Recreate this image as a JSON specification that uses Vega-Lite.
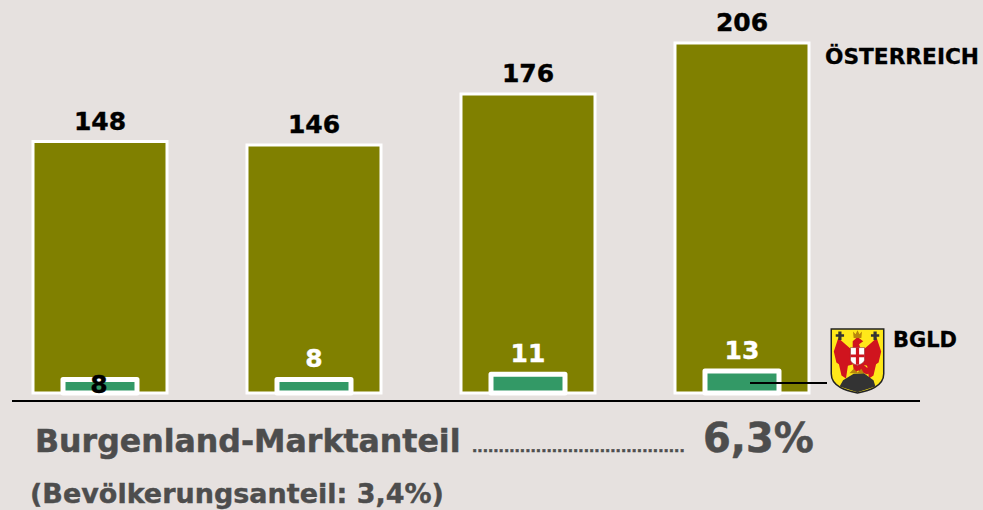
{
"$schema":"https://vega.github.io/schema/vega-lite/v6.json",
"width":983,"height":510,
"autosize":{"type":"fit","contains":"padding"},
"padding":0,
"background":"#E6E1DF",
"view":{"stroke":null},
"config":{"text":{"font":"DejaVu Sans","fontWeight":"bold"},"axis":{"disable":true}},
"datasets":{
"bars":[{"pos":1,"oesterreich":148,"bgld":8},{"pos":2,"oesterreich":146,"bgld":8},{"pos":3,"oesterreich":176,"bgld":11},{"pos":4,"oesterreich":206,"bgld":13}],
"one":[{"k":1}]
},
"data":{"name":"bars"},
"layer":[
{"mark":{"type":"bar","orient":"vertical","size":134,"fill":"#808000","stroke":"#FFFFFF","strokeWidth":3},
 "encoding":{
  "x":{"field":"pos","type":"quantitative","scale":{"domain":[0.53271,5.12617],"nice":false,"zero":false,"padding":0}},
  "y":{"field":"oesterreich","type":"quantitative","scale":{"domain":[-68.86,231.31],"nice":false,"zero":false}},
  "y2":{"datum":0}}},
{"mark":{"type":"bar","orient":"vertical","size":74,"fill":"#339966","stroke":"#FFFFFF","strokeWidth":5,"strokeJoin":"round"},
 "encoding":{"x":{"field":"pos","type":"quantitative"},"y":{"field":"bgld","type":"quantitative"},"y2":{"datum":0}}},
{"mark":{"type":"text","fontSize":25,"baseline":"alphabetic","dy":-12,"color":"#000000","stroke":"#000000","strokeWidth":0.4},
 "encoding":{"x":{"field":"pos","type":"quantitative"},"y":{"field":"oesterreich","type":"quantitative"},"text":{"field":"oesterreich","type":"quantitative"}}},
{"transform":[{"filter":"datum.pos > 1"}],
 "mark":{"type":"text","fontSize":25,"baseline":"alphabetic","dy":-12,"color":"#FFFFFF","stroke":"#FFFFFF","strokeWidth":0.4},
 "encoding":{"x":{"field":"pos","type":"quantitative"},"y":{"field":"bgld","type":"quantitative"},"text":{"field":"bgld","type":"quantitative"}}},
{"transform":[{"filter":"datum.pos == 1"}],
 "mark":{"type":"text","fontSize":25,"baseline":"alphabetic","dy":14,"dx":-1,"color":"#000000","stroke":"#000000","strokeWidth":0.4},
 "encoding":{"x":{"field":"pos","type":"quantitative"},"y":{"field":"bgld","type":"quantitative"},"text":{"field":"bgld","type":"quantitative"}}},
{"data":{"name":"one"},"mark":{"type":"rule","color":"#000000","strokeWidth":2},
 "encoding":{"x":{"datum":0.5888,"type":"quantitative"},"x2":{"datum":4.8318},"y":{"datum":-4.71,"type":"quantitative"}}},
{"data":{"name":"one"},"mark":{"type":"rule","color":"#000000","strokeWidth":2},
 "encoding":{"x":{"datum":4.0374,"type":"quantitative"},"x2":{"datum":4.3972},"y":{"datum":5.886,"type":"quantitative"}}},
{"data":{"values":[{"label":"ÖSTERREICH"}]},"mark":{"type":"text","align":"left","baseline":"alphabetic","fontSize":21.7,"color":"#000000","stroke":"#000000","strokeWidth":0.3},
 "encoding":{"x":{"datum":4.3879,"type":"quantitative"},"y":{"datum":193.6,"type":"quantitative"},"text":{"field":"label"}}},
{"data":{"values":[{"label":"BGLD"}]},"mark":{"type":"text","align":"left","baseline":"alphabetic","fontSize":21,"color":"#000000","stroke":"#000000","strokeWidth":0.3},
 "encoding":{"x":{"datum":4.7056,"type":"quantitative"},"y":{"datum":27.07,"type":"quantitative"},"text":{"field":"label"}}},
{"data":{"values":[{"label":"Burgenland-Marktanteil"}]},"mark":{"type":"text","align":"left","baseline":"alphabetic","fontSize":31.6,"color":"#4D4D4D","stroke":"#4D4D4D","strokeWidth":0.5},
 "encoding":{"x":{"datum":0.6963,"type":"quantitative"},"y":{"datum":-34.73,"type":"quantitative"},"text":{"field":"label"}}},
{"data":{"values":[{"label":"........................................"}]},"mark":{"type":"text","align":"left","baseline":"alphabetic","fontSize":14,"color":"#4D4D4D","stroke":"#4D4D4D","strokeWidth":0.5},
 "encoding":{"x":{"datum":2.7383,"type":"quantitative"},"y":{"datum":-34.73,"type":"quantitative"},"text":{"field":"label"}}},
{"data":{"values":[{"label":"6,3%"}]},"mark":{"type":"text","align":"left","baseline":"alphabetic","fontSize":40,"color":"#4D4D4D","stroke":"#4D4D4D","strokeWidth":0.5},
 "encoding":{"x":{"datum":3.8177,"type":"quantitative"},"y":{"datum":-34.73,"type":"quantitative"},"text":{"field":"label"}}},
{"data":{"values":[{"label":"(Bevölkerungsanteil: 3,4%)"}]},"mark":{"type":"text","align":"left","baseline":"alphabetic","fontSize":27,"color":"#4D4D4D","stroke":"#4D4D4D","strokeWidth":0.4},
 "encoding":{"x":{"datum":0.6729,"type":"quantitative"},"y":{"datum":-64.74,"type":"quantitative"},"text":{"field":"label"}}},
{"data":{"name":"one"},"mark":{"type":"point","filled":true,"opacity":1,"size":4096,"fill":"#FFE81A","stroke":"#222222","strokeWidth":1.5,
  "shape":"M-.82,-1H.82V.4C.82,.8 .35,.93 0,1C-.35,.93 -.82,.8 -.82,.4Z"},
 "encoding":{"x":{"datum":4.5397,"type":"quantitative"},"y":{"datum":18.83,"type":"quantitative"}}},
{"data":{"name":"one"},"mark":{"type":"point","filled":true,"opacity":1,"size":4096,"fill":"#D0141E","stroke":null,
  "shape":"M-.6,-.72L-.74,-.3L-.66,.05L-.58,.1L-.5,.45L-.36,.55L-.3,.15L-.12,.1L-.12,-.3ZM.6,-.72L.74,-.3L.66,.05L.58,.1L.5,.45L.36,.55L.3,.15L.12,.1L.12,-.3ZM-.15,-.35L-.15,-.62L0,-.75L.18,-.62L.05,-.52L.12,-.3ZM-.15,.08L.15,.08L.42,.32L.3,.42L.02,.3L-.1,.38Z"},
 "encoding":{"x":{"datum":4.5397,"type":"quantitative"},"y":{"datum":18.83,"type":"quantitative"}}},
{"data":{"name":"one"},"mark":{"type":"point","filled":true,"opacity":1,"size":4096,"fill":"#FFFFFF","stroke":"#7A1010","strokeWidth":0.5,
  "shape":"M-.22,-.42H.22V-.05C.22,.05 .1,.1 0,.14C-.1,.1 -.22,.05 -.22,-.05Z"},
 "encoding":{"x":{"datum":4.5397,"type":"quantitative"},"y":{"datum":18.83,"type":"quantitative"}}},
{"data":{"name":"one"},"mark":{"type":"point","filled":true,"opacity":1,"size":4096,"fill":"#D0141E","stroke":null,
  "shape":"M-.05,-.42H.05V.12H-.05ZM-.22,-.2H.22V-.12H-.22Z"},
 "encoding":{"x":{"datum":4.5397,"type":"quantitative"},"y":{"datum":18.83,"type":"quantitative"}}},
{"data":{"name":"one"},"mark":{"type":"point","filled":true,"opacity":1,"size":4096,"fill":"#333333","stroke":null,
  "shape":"M-.12,.4L.2,.38L.5,.6L.56,.8L0,.98L-.56,.8L-.45,.6ZM-.6,-.92H-.5V-.84H-.42V-.76H-.5V-.66H-.6V-.76H-.68V-.84H-.6ZM.5,-.92H.6V-.84H.68V-.76H.6V-.66H.5V-.76H.42V-.84H.5Z"},
 "encoding":{"x":{"datum":4.5397,"type":"quantitative"},"y":{"datum":18.83,"type":"quantitative"}}},
{"data":{"name":"one"},"mark":{"type":"point","filled":true,"opacity":1,"size":4096,"fill":"#B8860B","stroke":null,
  "shape":"M-.14,-.92L-.06,-.84L0,-.96L.06,-.84L.14,-.92L.12,-.72H-.12ZM-.25,.38L-.12,.24L0,.36L.12,.24L.2,.38Z"},
 "encoding":{"x":{"datum":4.5397,"type":"quantitative"},"y":{"datum":18.83,"type":"quantitative"}}}
]
}
